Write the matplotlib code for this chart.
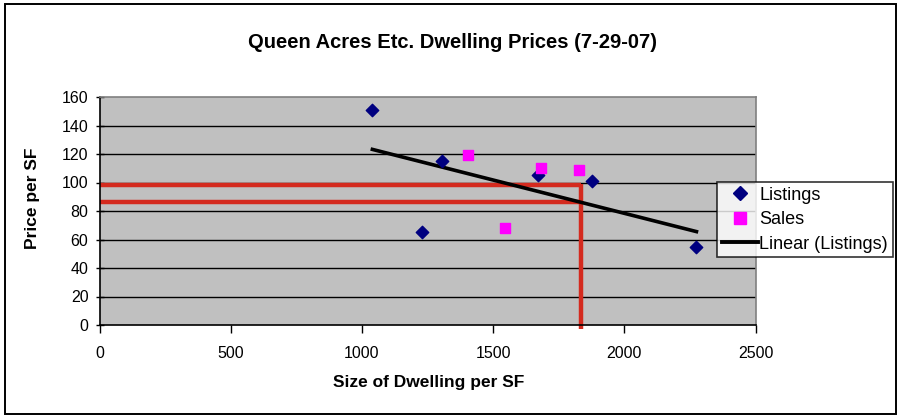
import numpy as np
import matplotlib
matplotlib.use("Agg")
import matplotlib.pyplot as plt
from matplotlib.patches import Rectangle
from matplotlib.lines import Line2D

plt.rcParams['font.family'] = ['Liberation Sans', 'DejaVu Sans']

# Data
listing_size = [1040, 1228, 1304, 1670, 1878, 2275]
listing_price = [151, 65, 115, 105, 101, 55]
sales_size = [1405, 1545, 1683, 1827]
sales_price = [119, 68, 110, 109]

# Reference guides: target size and price band
guide_size = 1835
guide_prices = [98, 86]

x_ticks = [0, 500, 1000, 1500, 2000, 2500]
y_ticks = [0, 20, 40, 60, 80, 100, 120, 140, 160]

title = "Queen Acres Etc. Dwelling Prices (7-29-07)"
x_label = "Size of Dwelling per SF"
y_label = "Price per SF"

fig = plt.figure(figsize=(9, 4.17), dpi=100)
W, H = 900, 417

# outer chart border
fig.patches.append(Rectangle((5 / W, 3 / H), 891 / W, 410 / H, transform=fig.transFigure,
                             fill=False, edgecolor='black', linewidth=1.4))

ax = fig.add_axes([99.5 / W, 1 - 325 / H, 656 / W, 228 / H])
ax.set_facecolor('#c0c0c0')
ax.set_xlim(0, 2500)
ax.set_ylim(0, 160)
ax.set_xticks(x_ticks)
ax.set_yticks(y_ticks)
ax.tick_params(axis='both', labelsize=11.5, colors='black', length=6, width=1)
ax.tick_params(axis='y', direction='inout', pad=5)
ax.tick_params(axis='x', direction='out', pad=9)
for s in ['top', 'right']:
    ax.spines[s].set_color('#808080')
    ax.spines[s].set_linewidth(1.2)
for s in ['left', 'bottom']:
    ax.spines[s].set_color('black')
    ax.spines[s].set_linewidth(1.2)

# horizontal gridlines
for yv in y_ticks[1:-1]:
    ax.axhline(yv, color='black', linewidth=1.0, zorder=1)

# red guide lines
red = '#d42a1e'
for p in guide_prices:
    ax.plot([0, guide_size], [p, p], color=red, linewidth=3.2, solid_capstyle='butt',
            zorder=2, clip_on=False)
ax.plot([guide_size, guide_size], [max(guide_prices) + 1.1, -2.5], color=red, linewidth=3.2,
        solid_capstyle='butt', zorder=2, clip_on=False)

# linear trend through listings
coef = np.polyfit(listing_size, listing_price, 1)
tx = np.array([min(listing_size), max(listing_size)])
ax.plot(tx, np.polyval(coef, tx), color='black', linewidth=2.6, zorder=3,
        label='Linear (Listings)')

ax.scatter(listing_size, listing_price, marker='D', s=40, color='#000080', zorder=4,
           label='Listings')
ax.scatter(sales_size, sales_price, marker='s', s=60, color='#ff00ff', zorder=4,
           label='Sales')

handles = [
    Line2D([], [], marker='D', linestyle='none', color='#000080', markersize=7),
    Line2D([], [], marker='s', linestyle='none', color='#ff00ff', markersize=8),
    Line2D([], [], color='black', linewidth=2.8),
]
leg = fig.legend(handles, ['Listings', 'Sales', 'Linear (Listings)'],
                 loc='upper left', bbox_to_anchor=(717 / W, 1 - 182 / H),
                 frameon=True, fancybox=False, fontsize=13, handlelength=2.0,
                 handletextpad=0.1, borderpad=0.25, labelspacing=0.42,
                 borderaxespad=0)
leg.get_frame().set_edgecolor('black')
leg.get_frame().set_linewidth(1.2)

fig.text(452 / W, 1 - 42 / H, title, ha='center', va='center', fontsize=14.5,
         fontweight='bold')
fig.text(429 / W, 1 - 383 / H, x_label, ha='center', va='center', fontsize=12.5,
         fontweight='bold')
fig.text(33 / W, 1 - 198 / H, y_label, ha='center', va='center', fontsize=12.5,
         fontweight='bold', rotation=90)

fig.savefig('out.png', dpi=100)
